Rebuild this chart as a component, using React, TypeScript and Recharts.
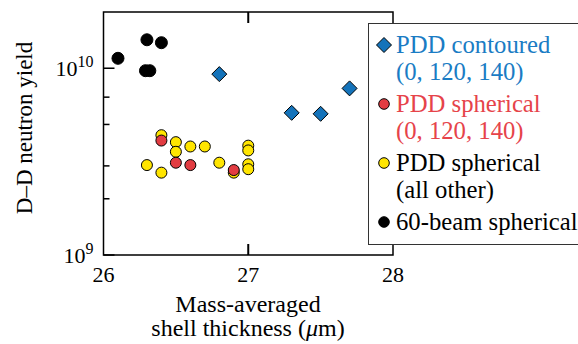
import React from 'react';
import { ScatterChart, Scatter, XAxis, YAxis, ReferenceArea, Legend } from 'recharts';

// tick values
const xTicks = [26, 27, 28];
const xInnerTicks = [27];
const yTicks = [1e9, 2e9, 3e9, 4e9, 5e9, 6e9, 7e9, 8e9, 9e9, 1e10];
const yMajor = [1e9, 1e10];

// PDD contoured (0, 120, 140)
const contouredX = [26.8, 27.3, 27.5, 27.7];
const contouredY = [9.3e9, 5.77e9, 5.7e9, 7.8e9];

// PDD spherical (0, 120, 140)
const sphericalX = [26.4, 26.5, 26.6, 26.9];
const sphericalY = [4.1e9, 3.12e9, 3.03e9, 2.85e9];

// PDD spherical (all other)
const otherX = [26.3, 26.4, 26.4, 26.5, 26.5, 26.6, 26.7, 26.8, 26.9, 27.0, 27.0, 27.0, 27.0];
const otherY = [3.03e9, 4.38e9, 2.76e9, 4.02e9, 3.57e9, 3.81e9, 3.81e9, 3.12e9, 2.76e9, 3.85e9, 3.63e9, 3.06e9, 2.88e9];

// 60-beam spherical
const beamX = [26.1, 26.3, 26.4, 26.29, 26.32];
const beamY = [1.13e10, 1.42e10, 1.37e10, 9.7e9, 9.7e9];

const legendLines = [
  ['PDD contoured', '(0, 120, 140)'],
  ['PDD spherical', '(0, 120, 140)'],
  ['PDD spherical', '(all other)'],
  ['60-beam spherical'],
];
const legendText = ['#1a7cc4', '#e6434a', '#000', '#000'];

const BLUE = '#1473ba';
const RED = '#e23c42';
const YELLOW = '#ffe500';
const FONT = '"Liberation Serif", "Times New Roman", serif';

const toPoints = (xs: number[], ys: number[]) => xs.map((x, i) => ({ x, y: ys[i] }));

const diamond = (props: any) => {
  const { cx, cy } = props;
  const s = 7.5;
  return (
    <polygon
      points={`${cx},${cy - s} ${cx + s},${cy} ${cx},${cy + s} ${cx - s},${cy}`}
      fill={BLUE}
      stroke="#000"
      strokeWidth={1}
    />
  );
};

const dot = (fill: string, r: number) => (props: any) => (
  <circle cx={props.cx} cy={props.cy} r={r} fill={fill} stroke="#000" strokeWidth={1} />
);

const YTick = (props: any) => {
  const { x, y, payload } = props;
  const major = yMajor.includes(payload.value);
  const exp = Math.round(Math.log10(payload.value));
  return (
    <g>
      <line x1={x} x2={x + (major ? 11 : 6)} y1={y} y2={y} stroke="#000" strokeWidth={1.5} />
      {major && (
        <text x={x - 10} y={y + 8} textAnchor="end" fontFamily={FONT} fontSize={22} fill="#000">
          <tspan>10</tspan>
          <tspan dy={-9} fontSize={16}>{exp}</tspan>
        </text>
      )}
    </g>
  );
};

const XTick = (props: any) => {
  const { x, y, payload } = props;
  return (
    <g>
      {xInnerTicks.includes(payload.value) && (
        <line x1={x} x2={x} y1={y} y2={y - 11} stroke="#000" strokeWidth={2} />
      )}
      <text x={x} y={y + 27} textAnchor="middle" fontFamily={FONT} fontSize={22} fill="#000">
        {payload.value}
      </text>
    </g>
  );
};

const XTopTick = (props: any) => {
  const { x, y } = props;
  return <line x1={x} x2={x} y1={y} y2={y + 11} stroke="#000" strokeWidth={2} />;
};

const LegendBox = () => (
  <div
    style={{
      width: 220,
      height: 222,
      boxSizing: 'border-box',
      border: '1.4px solid #333',
      background: '#fff',
      fontFamily: FONT,
      fontSize: 24.7,
      paddingTop: 7,
    }}
  >
    {legendLines.map((lines, i) => (
      <div key={i} style={{ position: 'relative', paddingLeft: 27, marginBottom: 5, color: legendText[i], lineHeight: '27px' }}>
        <svg width={18} height={18} style={{ position: 'absolute', left: 6, top: 5 }}>
          {i === 0 ? (
            <polygon points="9,1.5 16.5,9 9,16.5 1.5,9" fill={BLUE} stroke="#000" strokeWidth={1} />
          ) : (
            <circle cx={9} cy={9} r={5.3} fill={[BLUE, RED, YELLOW, '#000'][i]} stroke="#000" strokeWidth={1} />
          )}
        </svg>
        {lines.map((t, j) => (
          <div key={j} style={{ whiteSpace: 'nowrap' }}>{t}</div>
        ))}
      </div>
    ))}
  </div>
);

export default function App() {
  return (
    <div style={{ position: 'absolute', left: 0, top: 0, width: 578, height: 344, background: '#fff', overflow: 'hidden' }}>
      <ScatterChart width={578} height={344} margin={{ top: 11, right: 185, bottom: 88, left: 102.5 }}>
        <XAxis
          xAxisId="bottom"
          type="number"
          dataKey="x"
          domain={[26, 28]}
          ticks={xTicks}
          allowDataOverflow
          height={1}
          tickSize={0}
          tickMargin={0}
          axisLine={false}
          tickLine={false}
          tick={<XTick />}
        />
        <XAxis
          xAxisId="top"
          orientation="top"
          type="number"
          dataKey="x"
          domain={[26, 28]}
          ticks={xInnerTicks}
          allowDataOverflow
          height={1}
          tickSize={0}
          tickMargin={0}
          axisLine={false}
          tickLine={false}
          tick={<XTopTick />}
        />
        <YAxis
          yAxisId="left"
          type="number"
          dataKey="y"
          scale="log"
          domain={[1e9, 2e10]}
          ticks={yTicks}
          allowDataOverflow
          width={1}
          tickSize={0}
          tickMargin={0}
          axisLine={false}
          tickLine={false}
          tick={<YTick />}
        />
        <ReferenceArea
          xAxisId="bottom"
          yAxisId="left"
          x1={26}
          x2={28}
          y1={1e9}
          y2={2e10}
          fill="none"
          stroke="#000"
          strokeWidth={1.5}
        />
        <Scatter xAxisId="bottom" yAxisId="left" name="PDD contoured" data={toPoints(contouredX, contouredY)} shape={diamond} isAnimationActive={false} />
        <Scatter xAxisId="bottom" yAxisId="left" name="PDD spherical (all other)" data={toPoints(otherX, otherY)} shape={dot(YELLOW, 5.5)} isAnimationActive={false} />
        <Scatter xAxisId="bottom" yAxisId="left" name="PDD spherical" data={toPoints(sphericalX, sphericalY)} shape={dot(RED, 5.5)} isAnimationActive={false} />
        <Scatter xAxisId="bottom" yAxisId="left" name="60-beam spherical" data={toPoints(beamX, beamY)} shape={dot('#000', 6)} isAnimationActive={false} />
        <Legend
          layout="vertical"
          align="center"
          verticalAlign="middle"
          wrapperStyle={{ left: 368, top: 23, width: 220, height: 222 }}
          content={<LegendBox />}
        />
      </ScatterChart>
      <div
        style={{
          position: 'absolute',
          left: 25,
          top: 128,
          transform: 'translate(-50%, -50%) rotate(-90deg)',
          fontFamily: FONT,
          fontSize: 23,
          whiteSpace: 'nowrap',
        }}
      >
        D–D neutron yield
      </div>
      <div
        style={{
          position: 'absolute',
          left: 148,
          width: 200,
          top: 292,
          textAlign: 'center',
          fontFamily: FONT,
          fontSize: 24,
          lineHeight: '24px',
          whiteSpace: 'nowrap',
        }}
      >
        <div>Mass-averaged</div>
        <div>
          shell thickness (<i>μ</i>m)
        </div>
      </div>
    </div>
  );
}
